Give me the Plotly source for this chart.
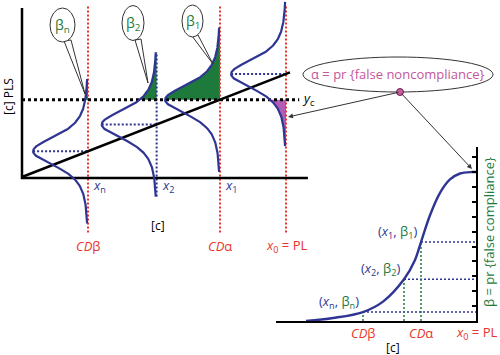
import numpy as np
import plotly.graph_objects as go

W, H = 500, 355

# ---------------- data ----------------
conc_names = ["n", "2", "1", "0"]          # x_n (=CDβ), x_2, x_1 (=CDα), x_0 (=PL)
conc_values = [2.5, 5.1, 7.5, 10.0]
cal_intercept = 0.1
cal_slope = 1.0
cal_conc_end = 10.15
critical_conc = 7.5                          # CDα -> y_c
dist_peak = 2.08                             # density height (conc units)
dist_scale = 1.55                            # density width (response units)
dist_df = 3
dist_halfspan = 7.0
left_axis_cmax = 10.83
left_axis_rmax = 16.5
yc_line_end = 10.5

power_conc = [4.35, 6.4, 7.25]              # x_n, x_2, x_1 on the power curve panel
power_beta = [0.06, 0.28, 0.53]
power_pl = 10.0
power_names = ["n", "2", "1"]
curve_conc = [1.5, 2.85, 4.35, 5.35, 6.4, 6.95, 7.25, 7.7, 8.2, 8.7, 9.2, 9.8, 10.0]
curve_beta = [0.0, 0.02, 0.06, 0.13, 0.28, 0.41, 0.53, 0.71, 0.86, 0.95, 0.99, 1.0, 1.0]
beta_ticks = [0.1 * i for i in range(1, 12)]

BLUE = "#2e3592"
GREEN = "#1d7a3a"
RED = "#e8352b"
MAG = "#c4569b"
MAGFILL = "#b35cb6"
FONT = "Open Sans"

# left panel: one axis pair spanning the whole figure
LX = [-22 / 26.4, (W - 22) / 26.4]
LY = [(178 - H) / 10.3, 178 / 10.3]

def response(c):
    return cal_intercept + cal_slope * c

y_c = response(critical_conc)

def density(d):
    return dist_peak * (1 + (d / dist_scale) ** 2 / dist_df) ** (-(dist_df + 1) / 2)

fig = go.Figure()

def add_line(xs, ys, color, width, dash=None, xa="x", ya="y"):
    fig.add_trace(go.Scatter(x=xs, y=ys, mode="lines", xaxis=xa, yaxis=ya,
                             line=dict(color=color, width=width, dash=dash),
                             hoverinfo="skip", showlegend=False))

# fills (under the curves)
for i, c in enumerate(conc_values):
    r0 = response(c)
    if i < 3:
        rr = np.linspace(y_c, r0 + dist_halfspan, 120)
        xs = list(c - density(rr - r0)) + [c, c]
        ys = list(rr) + [rr[-1], y_c]
        col = GREEN
    else:
        rr = np.linspace(r0 - dist_halfspan, y_c, 120)
        xs = list(c - density(rr - r0)) + [c, c]
        ys = list(rr) + [y_c, rr[0]]
        col = MAGFILL
    fig.add_trace(go.Scatter(x=xs, y=ys, mode="lines", fill="toself", fillcolor=col,
                             line=dict(width=0, color=col), hoverinfo="skip", showlegend=False))

# vertical reference lines
for i, c in enumerate(conc_values):
    r0 = response(c)
    if i == 1:
        add_line([c, c], [r0 - dist_halfspan, r0 + dist_halfspan], BLUE, 2, "2px,2px")
    else:
        add_line([c, c], [-5.3, 16.7], RED, 2, "2px,2px")

# horizontal dotted from density peak to the line
for i, c in enumerate(conc_values):
    if i == 2:
        continue
    r0 = response(c)
    add_line([c - dist_peak, c], [r0, r0], BLUE, 2, "2px,2px")

# y_c
add_line([0, yc_line_end], [y_c, y_c], "black", 3, "3px,3px")

# calibration line and axes
add_line([0, cal_conc_end], [response(0), response(cal_conc_end)], "black", 2.5)
add_line([0, 0, left_axis_cmax], [left_axis_rmax, 0, 0], "black", 2.5)

# density curves
for c in conc_values:
    r0 = response(c)
    rr = np.linspace(r0 - dist_halfspan, r0 + dist_halfspan, 300)
    add_line(list(c - density(rr - r0)), list(rr), BLUE, 2.2)

# ---------------- right panel ----------------
for xc, b in zip(power_conc, power_beta):
    add_line([xc, xc], [0, b], GREEN, 1.5, "2px,2px", "x2", "y2")
    add_line([xc, power_pl], [b, b], BLUE, 1.5, "2px,2px", "x2", "y2")
fig.add_trace(go.Scatter(x=curve_conc, y=curve_beta, mode="lines", xaxis="x2", yaxis="y2",
                         line=dict(color=BLUE, width=2.4, shape="spline", smoothing=1.0),
                         hoverinfo="skip", showlegend=False))

def pp(px, py):
    return px / W, 1 - py / H

# magenta dot
dx, dy = pp(400, 92)
fig.add_trace(go.Scatter(x=[dx * (LX[1] - LX[0]) + LX[0]], y=[dy * (LY[1] - LY[0]) + LY[0]],
                         mode="markers", marker=dict(size=7, color="#c8609e",
                         line=dict(color="#6a2050", width=1)), hoverinfo="skip", showlegend=False))

shapes = []
ann = []

def ptext(px, py, text, size, color, angle=0):
    x, y = pp(px, py)
    ann.append(dict(x=x, y=y, xref="paper", yref="paper", xanchor="center", yanchor="middle",
                    text=text, showarrow=False, textangle=angle,
                    font=dict(family=FONT, size=size, color=color)))

# bubbles: tails then ellipses
bubbles = [  # (cx, cy, w, h, tail_a, tail_b, tip, label)
    (62.5, 25, 25, 34, (64, 41), (71, 40), (85, 94), "β<sub>n</sub>"),
    (133, 23, 22, 35, (135, 40), (141, 39), (148, 83), "β<sub>2</sub>"),
    (192.5, 21, 21, 32, (192, 36), (198, 35), (213, 64), "β<sub>1</sub>"),
]
for cx, cy, w, h, ta, tb, tip, lab in bubbles:
    a = pp(*ta); b = pp(*tb); t = pp(*tip)
    shapes.append(dict(type="path", xref="paper", yref="paper",
                       path=f"M {a[0]} {a[1]} L {t[0]} {t[1]} L {b[0]} {b[1]} Z",
                       line=dict(color="#333", width=1), fillcolor="white"))
for cx, cy, w, h, ta, tb, tip, lab in bubbles:
    x0, y1 = pp(cx - w / 2, cy - h / 2)
    x1, y0 = pp(cx + w / 2, cy + h / 2)
    shapes.append(dict(type="circle", xref="paper", yref="paper", x0=x0, x1=x1, y0=y0, y1=y1,
                       line=dict(color="#333", width=1), fillcolor="white"))
    ptext(cx, cy, lab, 14, GREEN)

# big ellipse
x0, y1 = pp(303, 57)
x1, y0 = pp(493, 92)
shapes.append(dict(type="circle", xref="paper", yref="paper", x0=x0, x1=x1, y0=y0, y1=y1,
                   line=dict(color="#333", width=1), fillcolor="white", layer="below"))
ptext(397, 74, "α = pr {false noncompliance}", 13, MAG)

# arrows
for head, tail in [((288, 117), (400, 92)), ((472, 169), (400, 92))]:
    hx, hy = pp(*head)
    ann.append(dict(x=hx, y=hy, xref="paper", yref="paper", text="", showarrow=True,
                    ax=tail[0] - head[0], ay=tail[1] - head[1], axref="pixel", ayref="pixel",
                    arrowhead=2, arrowsize=1, arrowwidth=1, arrowcolor="#333"))

# left panel labels
for i, c in enumerate(conc_values[:3]):
    ann.append(dict(x=c, y=0, xref="x", yref="y", xanchor="left", yanchor="middle",
                    xshift=3, yshift=-8, showarrow=False,
                    text=f"<i>x</i><sub>{conc_names[i]}</sub>",
                    font=dict(family=FONT, size=13, color=BLUE)))
for i, lab in [(0, "<i>CD</i>β"), (2, "<i>CD</i>α"), (3, "<i>x</i><sub>0</sub> = PL")]:
    ann.append(dict(x=conc_values[i], y=-6.6, xref="x", yref="y", showarrow=False,
                    xanchor="center", yanchor="middle",
                    text=lab, font=dict(family=FONT, size=13, color=RED)))
ann.append(dict(x=yc_line_end, y=y_c, xref="x", yref="y", xanchor="left", yanchor="middle",
                xshift=1, yshift=1, showarrow=False, text="<i>y</i><sub>c</sub>",
                font=dict(family=FONT, size=13, color="black")))
ptext(158, 225, "[c]", 12, "black")
ptext(8, 97, "[c] PLS", 12, "black", -90)

# right panel labels
for xc, b, nm in zip(power_conc, power_beta, power_names):
    t = (f"<span style='color:{BLUE}'>(<i>x</i><sub>{nm}</sub>, </span>"
         f"<span style='color:{GREEN}'>β<sub>{nm}</sub></span>"
         f"<span style='color:{BLUE}'>)</span>")
    ann.append(dict(x=xc, y=b, xref="x2", yref="y2", xanchor="right", yanchor="bottom",
                    xshift=-2, yshift=-2, showarrow=False, text=t,
                    font=dict(family=FONT, size=13, color=BLUE)))
for xc, lab in [(power_conc[0], "<i>CD</i>β"), (power_conc[2], "<i>CD</i>α"),
                (power_pl, "<i>x</i><sub>0</sub> = PL")]:
    ann.append(dict(x=xc, y=0, xref="x2", yref="y2", yshift=-12, showarrow=False, text=lab,
                    xanchor="center", yanchor="middle",
                    font=dict(family=FONT, size=13, color=RED)))
ptext(393, 347, "[c]", 12, "black")
ptext(489, 232, "β = pr {false compliance}", 13, GREEN, -90)

hidden = dict(showgrid=False, zeroline=False, showticklabels=False, showline=False,
              ticks="", fixedrange=True)
fig.update_layout(
    width=W, height=H, margin=dict(l=0, r=0, t=0, b=0),
    paper_bgcolor="white", plot_bgcolor="rgba(0,0,0,0)",
    xaxis=dict(domain=[0, 1], range=LX, **hidden),
    yaxis=dict(domain=[0, 1], range=LY, **hidden),
    xaxis2=dict(domain=[276 / W, 476 / W], range=[0, 10], anchor="y2", showgrid=False,
                zeroline=False, showticklabels=False, showline=True, linecolor="black",
                linewidth=2, ticks=""),
    yaxis2=dict(domain=[(H - 321) / H, (H - 147) / H], range=[0, 174 / 149], anchor="x2",
                side="right", showgrid=False, zeroline=False, showticklabels=False,
                showline=True, linecolor="black", linewidth=2, ticks="inside",
                tickvals=beta_ticks, ticklen=4, tickwidth=1.5, tickcolor="black"),
    shapes=shapes, annotations=ann, showlegend=False,
)

fig.write_html("out.html", config={"displayModeBar": False},
               post_script="document.body.style.margin='0';document.body.style.padding='0';")
